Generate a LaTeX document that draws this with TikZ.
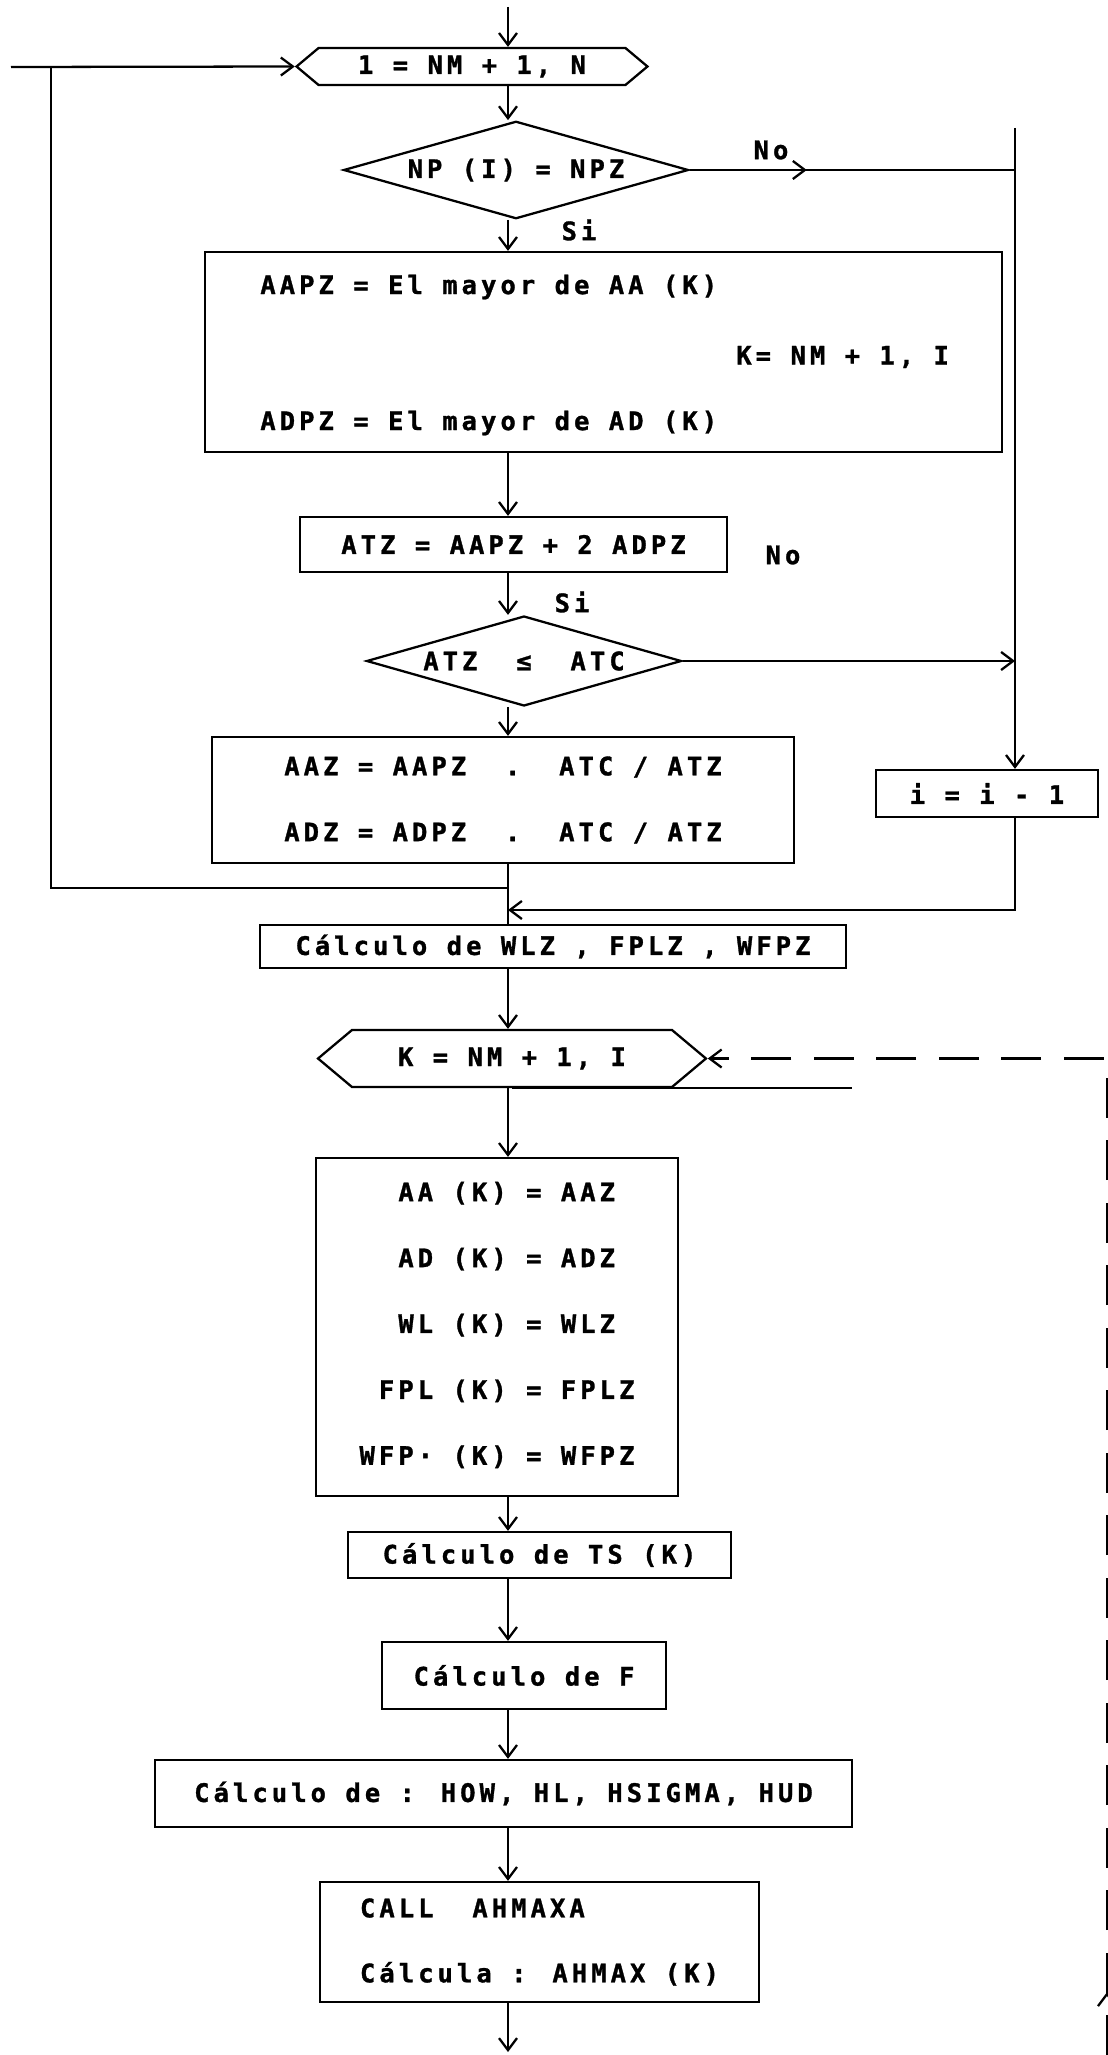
\documentclass[tikz,border=0pt]{standalone}
\usepackage{fontspec}
\newfontfamily\tw{DejaVu Sans Mono}[LetterSpace=16, BoldFont={DejaVu Sans Mono Bold}, BoldFeatures={FakeBold=1.2}]
\newcommand\typed{\tw\bfseries\fontsize{14.5}{17}\selectfont}
\usetikzlibrary{arrows.meta,shapes.geometric,shapes.symbols,decorations.markings}
\tikzset{
  proc/.style={
    draw, line width=1.3pt, inner sep=0pt,
    align=center, font=\typed
  },
  hexa/.style={proc, signal, signal to=west and east, signal pointer angle=80},
  cond/.style={proc, diamond, shape aspect=3.4},
  txt/.style={inner sep=0pt, anchor=west, font=\typed},
  lbl/.style={inner sep=0pt, font=\typed},
  conn/.style={line width=1.3pt},
  flowarr/.style={-{Straight Barb[length=2.4mm,width=3.6mm]}, line width=1.3pt},
  retdash/.style={flowarr, dash pattern=on 0.8cm off 0.45cm},
  midarr/.style={postaction={decorate}, decoration={markings,
    mark=at position #1 with {\arrow{Straight Barb[length=2.4mm,width=3.6mm]}}}}
}

\begin{document}
\begin{tikzpicture}[x=0.02cm, y=-0.02cm]
  \useasboundingbox (0,0) rectangle (1107,2055);
  \coordinate (top) at (508,7);
  % loop over I
  \node[hexa, minimum width=7.02cm, minimum height=0.74cm] (iloop) at (472,66.5) {1 = NM + 1, N};
  \node[cond, minimum width=6.9cm, minimum height=1.95cm] (npz) at (516,170) {NP (I) = NPZ};
  \node[proc, minimum width=15.94cm, minimum height=4cm] (mayor) at (603.5,352) {};
  \node[txt] (mayorA) at (260,287) {AAPZ = El mayor de AA (K)};
  \node[txt] (mayorK) at (736,357) {K= NM + 1, I};
  \node[txt] (mayorD) at (260,423) {ADPZ = El mayor de AD (K)};
  \node[proc, minimum width=8.54cm, minimum height=1.1cm] (atz) at (513.5,544.5) {ATZ = AAPZ + 2 ADPZ};
  \node[cond, minimum width=6.3cm, minimum height=1.8cm] (atc) at (524,661) {ATZ\ \ ≤\ \ ATC};
  \node[proc, minimum width=11.64cm, minimum height=2.52cm, align=left] (aaz) at (503,800)
    {AAZ = AAPZ\ \ .\ \ ATC / ATZ\\[20.5pt]ADZ = ADPZ\ \ .\ \ ATC / ATZ};
  \node[proc, minimum width=4.44cm, minimum height=0.94cm] (idec) at (987,793.5) {i = i - 1};
  \node[lbl] (noA) at (771,150) {No};
  \node[lbl] (siA) at (579,230) {Si};
  \node[lbl] (noB) at (783,555) {No};
  \node[lbl] (siB) at (572,602) {Si};
  % loop over K
  \node[proc, minimum width=11.72cm, minimum height=0.86cm] (wlz) at (553,946.5) {Cálculo de WLZ , FPLZ , WFPZ};
  \node[hexa, minimum width=7.76cm, minimum height=1.14cm] (kloop) at (512,1058.5) {K = NM + 1, I};
  \node[proc, minimum width=7.24cm, minimum height=6.76cm] (asg) at (497,1327)
    {\begin{tabular}{@{}r@{\ }l@{}}
      AA & (K) = AAZ\\[20.5pt]
      AD & (K) = ADZ\\[20.5pt]
      WL & (K) = WLZ\\[20.5pt]
      FPL & (K) = FPLZ\\[20.5pt]
      WFP· & (K) = WFPZ
    \end{tabular}};
  \node[proc, minimum width=7.66cm, minimum height=0.92cm] (ts) at (539.5,1555) {Cálculo de TS (K)};
  \node[proc, minimum width=5.68cm, minimum height=1.34cm] (fcalc) at (524,1675.5) {Cálculo de F};
  \node[proc, minimum width=13.94cm, minimum height=1.34cm] (how) at (503.5,1793.5) {Cálculo de : HOW, HL, HSIGMA, HUD};
  \node[proc, minimum width=8.78cm, minimum height=2.4cm, align=left] (call) at (539.5,1942)
    {CALL\ \ AHMAXA\\[20pt]Cálcula : AHMAX (K)};
  \coordinate (bot) at (508,2052);

  % main flow
  \draw[flowarr] (top) -- (top |- iloop.north);
  \draw[flowarr] (iloop.south -| top) -- (npz.north -| top);
  \draw[flowarr] (npz.south -| top) -- (mayor.north -| top);
  \draw[flowarr] (mayor.south -| top) -- (atz.north -| top);
  \draw[flowarr] (atz.south -| top) -- (atc.north -| top);
  \draw[flowarr] (atc.south -| top) -- (aaz.north -| top);
  \draw[conn] (aaz.south -| top) -- (wlz.north -| top);

  % return to I loop
  \coordinate (jA) at (508,888);
  \coordinate (lcorner) at (51,67);
  \coordinate (lin) at (11,67);
  \draw[conn] (jA) -| (lcorner);
  \draw[flowarr] (lin) -- (iloop.west);

  % No branches
  \coordinate (rtop) at (1015,128);
  \draw[flowarr] (rtop) -- (rtop |- idec.north);
  \draw[conn, midarr=0.36] (npz.east) -- (npz.east -| rtop);
  \draw[flowarr] (atc.east) -- (atc.east -| rtop);
  \coordinate (jB) at (508,910);
  \draw[flowarr] (idec.south -| rtop) |- (jB);

  % K loop body
  \draw[flowarr] (wlz.south -| top) -- (kloop.north -| top);
  \draw[conn] (kloop.south) -- ++(340,0);
  \draw[flowarr] (kloop.south -| top) -- (asg.north -| top);
  \draw[flowarr] (asg.south -| top) -- (ts.north -| top);
  \draw[flowarr] (ts.south -| top) -- (fcalc.north -| top);
  \draw[flowarr] (fcalc.south -| top) -- (how.north -| top);
  \draw[flowarr] (how.south -| top) -- (call.north -| top);
  \draw[flowarr] (call.south -| top) -- (bot);

  % dashed return of K loop
  \coordinate (rbot) at (1107,2055);
  \draw[retdash, midarr=0.045] (rbot) |- (kloop.east);
\end{tikzpicture}
\end{document}
